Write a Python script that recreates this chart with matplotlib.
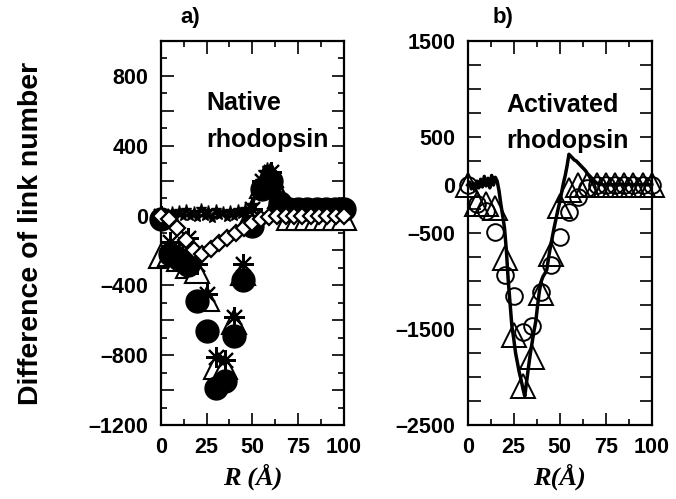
import matplotlib
matplotlib.use("Agg")
from matplotlib import pyplot as plt
from matplotlib.ticker import MultipleLocator, FuncFormatter

plt.rcParams['font.family'] = ['Liberation Sans', 'DejaVu Sans']
plt.rcParams['font.weight'] = 'bold'

# ---- panel a) native rhodopsin ----
r5 = [0, 5, 10, 15, 20, 25, 30, 35, 40, 45, 50, 55, 60, 65, 70, 75, 80, 85, 90, 95, 100]
a_circles = [-20, -220, -250, -285, -490, -660, -990, -950, -690, -370, -60, 150, 200, 70,
             40, 40, 40, 40, 40, 40, 40]
a_triangles = [-230, -220, -250, -290, -320, -480, -870, -870, -610, -330, 20, 170, 230, 110,
               -15, -15, -15, -15, -15, -15, -15]
a_stars = [0, -150, -200, -130, -275, -450, -810, -830, -580, -280, 40, 200, 250, 80,
           40, 40, 40, 40, 40, 40, 40]

r_diam = [0, 4.5, 9.1, 13.6, 18.2, 22.7, 27.3, 31.8, 36.4, 40.9, 45.5, 50, 54.5, 59.1,
          63.6, 68.2, 72.7, 77.3, 81.8, 86.4, 90.9, 95.5, 100]
a_diamonds = [0, -20, -70, -140, -200, -220, -190, -160, -130, -100, -70, -40, -20, -10,
              0, 0, 0, 0, 0, 0, 0, 0, 0]

r_fine = list(range(0, 101, 2))
a_fine = [0, 10, -15, 20, -10, 25, -5, 30, 0, 20, -10, 35, 0, 25, -15, 30, 5, 20, -10, 25,
          0, 30, 10, 40, 30, 60, 120, 200, 250, 270, 250, 200, 150, 110, 80, 60, 50, 45,
          40, 50, 35, 50, 40, 50, 35, 50, 40, 50, 35, 50, 40]

# ---- panel b) activated rhodopsin ----
b_circles = [0, -200, -270, -490, -940, -1160, -1530, -1470, -1110, -830, -540, -280, -130,
             -30, 0, 0, 0, 0, 0, 0, 0]
b_triangles = [0, -200, -200, -240, -760, -1560, -2090, -1790, -1130, -720, -220, -50, 0,
               0, 0, 0, 0, 0, 0, 0, 0]

r_line = list(range(0, 71)) + list(range(72, 101, 2))
b_line = [0, 30, -40, 20, -60, 40, -30, 60, -20, 90, -10, 70, -30, 100, 0, 80, 40, -60,
          -200, -320, -450, -680, -990, -1230, -1470, -1600, -1750, -1850, -1950, -2030,
          -2120, -2200, -2050, -1900, -1760, -1640, -1520, -1420, -1250, -1100, -1000, -950,
          -920, -880, -750, -640, -540, -440, -350, -260, -180, -80, 20, 100, 200, 320, 300,
          280, 260, 250, 230, 210, 190, 170, 150, 120, 100, 80, 60, 40, 20,
          10, 0, 10, 0, 10, 0, 10, 0, 10, 0, 10, 0, 10, 0, 10]


def style_axes(ax, ymaj, labels):
    ax.set_xlim(0, 100)
    ax.xaxis.set_major_locator(MultipleLocator(25))
    ax.xaxis.set_minor_locator(MultipleLocator(12.5))
    ax.yaxis.set_major_locator(MultipleLocator(ymaj))
    ax.yaxis.set_major_formatter(FuncFormatter(
        lambda v, p: ("%d" % v).replace("-", "\u2013") if int(round(v)) in labels else ""))
    ax.tick_params(which="both", direction="in", top=True, right=True, width=1.2,
                   labelsize=15.5)
    ax.tick_params(axis="y", pad=9)
    ax.tick_params(axis="x", pad=9)
    ax.tick_params(which="major", length=9)
    ax.tick_params(which="minor", length=4.5)
    for s in ax.spines.values():
        s.set_linewidth(1.6)


fig = plt.figure(figsize=(6.76, 4.99), dpi=100)
ax1 = fig.add_axes([0.2377, 0.1483, 0.2712, 0.7695])
ax2 = fig.add_axes([0.6919, 0.1483, 0.2722, 0.7695])

# panel a
ax1.plot(r5, a_triangles, ls="none", marker="^", ms=17, mfc="white", mec="black", mew=1.5,
         clip_on=False, zorder=3)
ax1.plot(r5, a_stars, ls="none", marker=(8, 2, 0), ms=15, mec="black", mew=1.5,
         clip_on=False, zorder=4)
ax1.plot(r5, a_circles, ls="none", marker="o", ms=16.5, mfc="black", mec="black",
         clip_on=False, zorder=5)
ax1.plot(r_fine, a_fine, color="black", lw=2, marker="*", ms=8, mfc="black", mec="black",
         clip_on=False, zorder=6)
ax1.plot(r_diam, a_diamonds, ls="none", marker="D", ms=8, mfc="white", mec="black", mew=1.6,
         clip_on=False, zorder=7)
ax1.set_ylim(-1200, 1000)
style_axes(ax1, 200, {800, 400, 0, -400, -800, -1200})
ax1.yaxis.set_minor_locator(MultipleLocator(100))
ax1.text(0.251, 0.820, "Native", transform=ax1.transAxes, fontsize=18,
         fontweight="bold", ha="left", va="baseline")
ax1.text(0.251, 0.725, "rhodopsin", transform=ax1.transAxes, fontsize=18,
         fontweight="bold", ha="left", va="baseline")

# panel b
ax2.plot(r5, b_triangles, ls="none", marker="^", ms=17, mfc="none", mec="black", mew=1.4,
         clip_on=False, zorder=3)
ax2.plot(r5, b_circles, ls="none", marker="o", ms=12, mfc="none", mec="black", mew=1.4,
         clip_on=False, zorder=4)
ax2.plot(r_line, b_line, color="black", lw=2.5, clip_on=False, zorder=5)
ax2.set_ylim(-2500, 1500)
style_axes(ax2, 250, {1500, 500, 0, -500, -1500, -2500})
ax2.text(0.212, 0.816, "Activated", transform=ax2.transAxes, fontsize=18,
         fontweight="bold", ha="left", va="baseline")
ax2.text(0.212, 0.721, "rhodopsin", transform=ax2.transAxes, fontsize=18,
         fontweight="bold", ha="left", va="baseline")

for ax, lab in ((ax1, "R (\u00c5)"), (ax2, "R(\u00c5)")):
    ax.set_xlabel(lab, family=["Liberation Serif", "DejaVu Serif"], style="italic",
                  fontweight="bold", fontsize=19, labelpad=4)

fig.text(190 / 676, 1 - 18 / 499, "a)", fontsize=16, fontweight="bold", ha="center", va="center")
fig.text(503 / 676, 1 - 18 / 499, "b)", fontsize=16, fontweight="bold", ha="center", va="center")
fig.text(31 / 676, 1 - 233 / 499, "Difference of link number", rotation=90, fontsize=20.5,
         fontweight="bold", ha="center", va="center")

fig.savefig("out.png", dpi=100)
